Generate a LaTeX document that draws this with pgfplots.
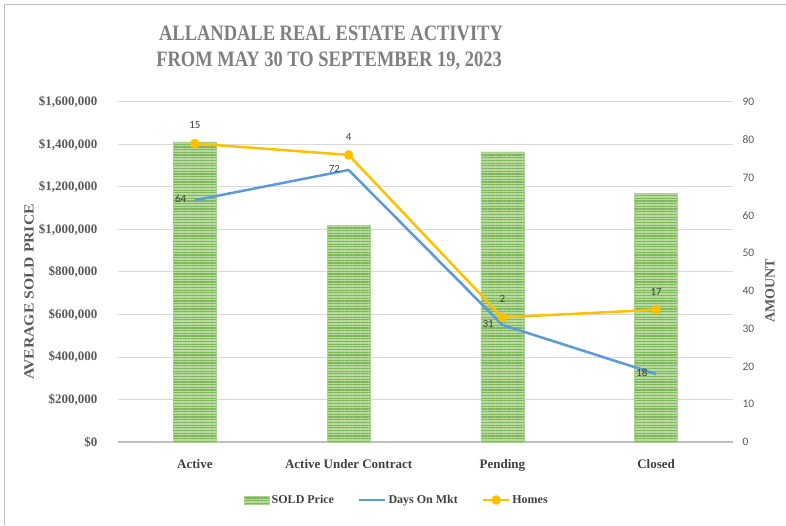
\documentclass[border=0pt]{standalone}
\usepackage{fontspec}
\setmainfont{Liberation Serif}
\newfontfamily\carlito{Carlito}
\usepackage{pgfplots}
\pgfplotsset{compat=1.18}
\usepackage{pgfplotstable}
\usetikzlibrary{patterns.meta}
\definecolor{barlight}{HTML}{B8DA9F}
\definecolor{bardark}{HTML}{7DB65A}
\definecolor{barborder}{HTML}{A9D18E}
\definecolor{daysblue}{HTML}{5B9BD5}
\definecolor{homesyellow}{HTML}{FFC000}
\definecolor{titlegray}{HTML}{7F7F7F}
\definecolor{labelgray}{HTML}{595959}
\definecolor{textdark}{HTML}{404040}
\definecolor{gridgray}{HTML}{D9D9D9}
\definecolor{framegray}{HTML}{BFBFBF}

\pgfplotstableread{
x price days homes
0 1412000 64 15
1 1018000 72 4
2 1366000 31 2
3 1170000 18 17
}\data

\tikzset{barstyle/.style={draw=barborder, fill=barlight,
  postaction={pattern={Lines[angle=0,distance=2.7pt,line width=1.2pt]}, pattern color=bardark}}}
\pgfplotsset{
  mylinelegend/.style={legend image code/.code={\draw[##1] (0pt,0pt) -- (26pt,0pt);}},
  mymarklegend/.style={legend image code/.code={\draw[mark repeat=2, mark phase=2, ##1] plot coordinates {(0pt,0pt) (13pt,0pt) (26pt,0pt)};}},
  mybarlegend/.style={legend image code/.code={\draw[barstyle] (0pt,-4pt) rectangle (25pt,4pt);}},
}

\begin{document}
\begin{tikzpicture}
\useasboundingbox (0pt,0pt) rectangle (786pt,525pt);
\draw[framegray, line width=1pt] (4pt,0pt) -- (4pt,520pt) -- (786pt,520pt);
\node[text=titlegray, font=\bfseries\fontsize{22}{26}\selectfont] at (331pt,491.5pt) {\scalebox{0.84}[1]{ALLANDALE REAL ESTATE ACTIVITY}};
\node[text=titlegray, font=\bfseries\fontsize{22}{26}\selectfont] at (329pt,464pt) {\scalebox{0.84}[1]{FROM MAY 30 TO SEPTEMBER 19, 2023}};
\node[rotate=90, text=labelgray, font=\bfseries\fontsize{14}{16}\selectfont] at (29pt,233pt) {\scalebox{1.12}[1]{AVERAGE SOLD PRICE}};
\node[rotate=90, text=labelgray, font=\bfseries\fontsize{14}{16}\selectfont] at (770pt,234pt) {AMOUNT};

\begin{axis}[at={(118pt,83pt)}, anchor=south west, scale only axis,
  width=615pt, height=340pt,
  xmin=-0.5, xmax=3.5, ymin=0, ymax=1600000, clip=false,
  scaled y ticks=false,
  axis x line*=bottom, axis y line*=left,
  x axis line style={-, framegray, line width=1.5pt},
  y axis line style={draw=none},
  major tick length=0,
  ymajorgrids, grid style={gridgray, line width=1pt},
  ytick={0,200000,400000,600000,800000,1000000,1200000,1400000,1600000},
  yticklabels={\$0,{\$200,000},{\$400,000},{\$600,000},{\$800,000},{\$1,000,000},{\$1,200,000},{\$1,400,000},{\$1,600,000}},
  yticklabel style={font=\bfseries\fontsize{13}{15}\selectfont, text=labelgray, xshift=-17pt},
  xtick={0,1,2,3},
  xticklabels={Active, Active Under Contract, Pending, Closed},
  xticklabel style={font=\bfseries\fontsize{13}{15}\selectfont, text=textdark, yshift=-14pt},
]
\addplot[ybar, bar width=43pt, bar shift=0pt, barstyle] table[x=x, y=price]{\data};
\end{axis}

\begin{axis}[at={(118pt,83pt)}, anchor=south west, scale only axis,
  width=615pt, height=340pt,
  xmin=-0.5, xmax=3.5, ymin=0, ymax=90, clip=false,
  axis x line=none, axis y line*=right,
  y axis line style={draw=none},
  major tick length=0,
  ytick={0,10,20,30,40,50,60,70,80,90},
  /pgf/number format/assume math mode=true,
  yticklabel style={font=\carlito\fontsize{11.5}{13}\selectfont, text=labelgray, xshift=6pt},
  stack plots=y,
  legend style={at={(0.4537,-0.1706)}, anchor=center, draw=none, fill=none,
    legend columns=3, font=\bfseries\fontsize{12}{14}\selectfont, text=textdark,
    /tikz/every even column/.append style={column sep=22pt}},
  legend cell align=left,
]
\addlegendimage{mybarlegend}
\addlegendentry{SOLD Price}
\addplot[daysblue, line width=2.5pt, nodes near coords, point meta=explicit,
  every node near coord/.append style={anchor=east, xshift=-4pt, yshift=1pt,
    font=\carlito\fontsize{11}{13}\selectfont, text=textdark},
  mylinelegend]
  table[x=x, y=days, meta=days]{\data};
\addlegendentry{Days On Mkt}
\addplot[homesyellow, line width=2.5pt, mark=*, mark size=4.5pt,
  mark options={fill=homesyellow, draw=homesyellow, line width=0.5pt},
  nodes near coords, point meta=explicit,
  every node near coord/.append style={anchor=south, yshift=11pt,
    font=\carlito\fontsize{11}{13}\selectfont, text=textdark},
  mymarklegend]
  table[x=x, y=homes, meta=homes]{\data};
\addlegendentry{Homes}
\end{axis}
\end{tikzpicture}
\end{document}
